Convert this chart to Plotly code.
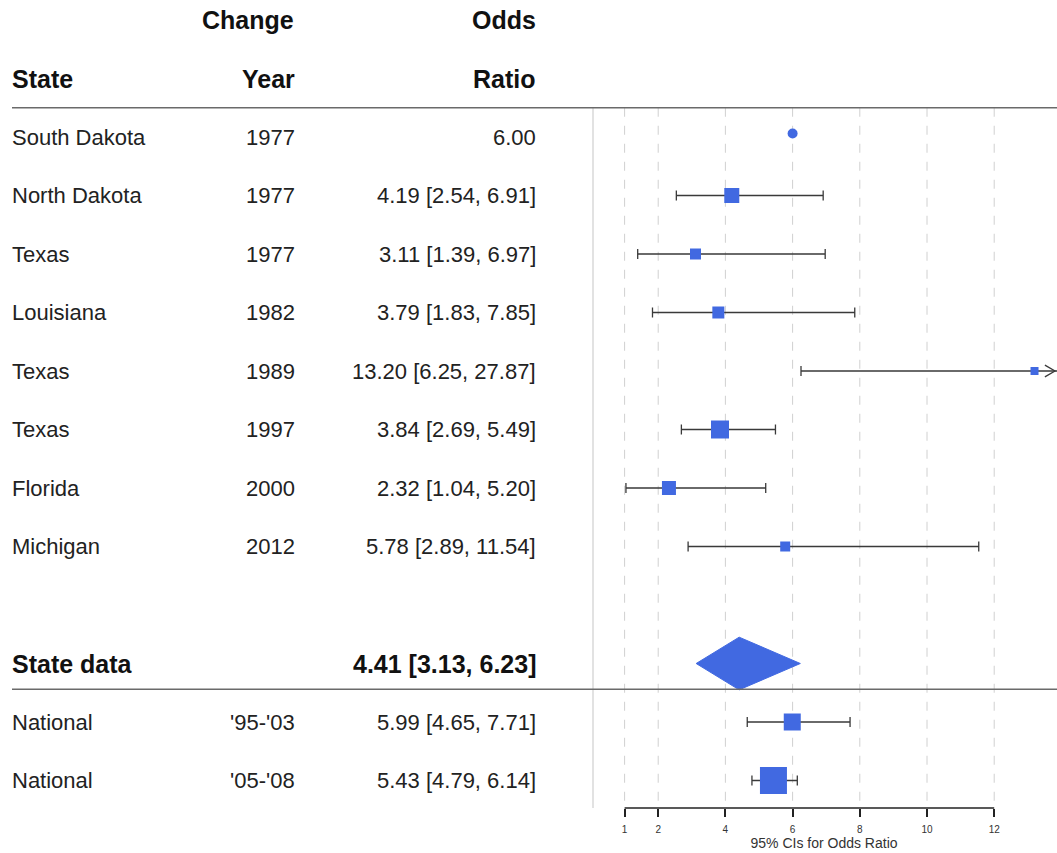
import plotly.graph_objects as go

# Study rows
states = ["South Dakota", "North Dakota", "Texas", "Louisiana", "Texas", "Texas",
          "Florida", "Michigan"]
years = ["1977", "1977", "1977", "1982", "1989", "1997", "2000", "2012"]
odds = [6.00, 4.19, 3.11, 3.79, 13.20, 3.84, 2.32, 5.78]
ci_low = [None, 2.54, 1.39, 1.83, 6.25, 2.69, 1.04, 2.89]
ci_high = [None, 6.91, 6.97, 7.85, 27.87, 5.49, 5.20, 11.54]
weights = [10, 15, 11, 12, 8, 18, 14, 10]  # marker sizes (px)

# Pooled estimate
pooled_label = "State data"
pooled_or, pooled_low, pooled_high = 4.41, 3.13, 6.23

# National rows
nat_names = ["National", "National"]
nat_years = ["'95-'03", "'05-'08"]
nat_or = [5.99, 5.43]
nat_low = [4.65, 4.79]
nat_high = [7.71, 6.14]
nat_weights = [17, 27]

tick_vals = [1, 2, 4, 6, 8, 10, 12]

W, H = 1057, 853
X0_PX, PX_PER_UNIT = 591, 33.6
ROW0_PX, PX_PER_ROW = 137, 58.5
x_max = (W - X0_PX) / PX_PER_UNIT
y_top = -ROW0_PX / PX_PER_ROW
y_bot = (H - ROW0_PX) / PX_PER_ROW
AXIS_ROW = 11.47

BLUE = "#4169E1"
CI_COL = "#3a3a3a"
TXT = "#222222"
FONT = "Liberation Sans, Arial, sans-serif"

state_rows = list(range(len(states)))
pooled_row = 9
nat_rows = [10, 11]

fig = go.Figure()

# dashed reference grid
shapes = []
for t in tick_vals:
    shapes.append(dict(type="line", xref="x", yref="y", x0=t, x1=t, y0=-0.5, y1=AXIS_ROW,
                       line=dict(color="#d0d0d0", width=1, dash="dash"), layer="below"))
# separator between table and plot
shapes.append(dict(type="line", xref="paper", yref="y", x0=593 / W, x1=593 / W,
                   y0=-0.5, y1=AXIS_ROW, line=dict(color="#cfcfcf", width=1.2), layer="below"))
# horizontal rules
for r in (-0.5, 9.44):
    shapes.append(dict(type="line", xref="paper", yref="y", x0=12 / W, x1=1,
                       y0=r, y1=r, line=dict(color="#6a6a6a", width=1.5)))
# axis line
shapes.append(dict(type="line", xref="x", yref="y", x0=tick_vals[0], x1=tick_vals[-1],
                   y0=AXIS_ROW, y1=AXIS_ROW, line=dict(color="#222222", width=1.5)))

# South Dakota: point estimate only
fig.add_trace(go.Scatter(
    x=[odds[0]], y=[state_rows[0] - 0.06], mode="markers",
    marker=dict(symbol="circle", size=weights[0], color=BLUE, opacity=1,
                line=dict(width=0)),
    showlegend=False))

# remaining state estimates with CIs
xs = odds[1:]
ys = state_rows[1:]
fig.add_trace(go.Scatter(
    x=xs, y=ys, mode="markers",
    marker=dict(symbol="square", size=weights[1:], color=BLUE, opacity=1,
                line=dict(width=0)),
    error_x=dict(type="data", symmetric=False,
                 array=[h - o for h, o in zip(ci_high[1:], xs)],
                 arrayminus=[o - l for l, o in zip(ci_low[1:], xs)],
                 color=CI_COL, thickness=1.3, width=5),
    showlegend=False))

# national estimates
fig.add_trace(go.Scatter(
    x=nat_or, y=nat_rows, mode="markers",
    marker=dict(symbol="square", size=nat_weights, color=BLUE, opacity=1,
                line=dict(width=0)),
    error_x=dict(type="data", symmetric=False,
                 array=[h - o for h, o in zip(nat_high, nat_or)],
                 arrayminus=[o - l for l, o in zip(nat_low, nat_or)],
                 color=CI_COL, thickness=1.3, width=5),
    showlegend=False))

# pooled diamond
dh = 0.45
fig.add_trace(go.Scatter(
    x=[pooled_low, pooled_or, pooled_high, pooled_or, pooled_low],
    y=[pooled_row, pooled_row - dh, pooled_row, pooled_row + dh, pooled_row],
    mode="lines", fill="toself", fillcolor=BLUE, line=dict(color=BLUE, width=1),
    showlegend=False))

# open arrow for the CI that runs past the axis
r_arrow = 4
ax = x_max - 0.06
fig.add_trace(go.Scatter(
    x=[ax - 0.3, ax, ax - 0.3], y=[r_arrow - 0.1, r_arrow, r_arrow + 0.1],
    mode="lines", line=dict(color=CI_COL, width=1.3), showlegend=False, cliponaxis=False))

# table text
ann = []
def txt(x, y, s, anchor, bold=False):
    ann.append(dict(xref="paper", yref="y", x=x / W, y=y, text=(f"<b>{s}</b>" if bold else s),
                    showarrow=False, xanchor=anchor, yanchor="middle",
                    font=dict(family=FONT, size=25 if bold else 22,
                              color="#111111" if bold else TXT)))

txt(200, -2, "Change", "left", True)
txt(538, -2, "Odds", "right", True)
txt(10, -1, "State", "left", True)
txt(297, -1, "Year", "right", True)
txt(538, -1, "Ratio", "right", True)

for i, (s, yr, o, lo, hi) in enumerate(zip(states, years, odds, ci_low, ci_high)):
    txt(10, state_rows[i], s, "left")
    txt(297, state_rows[i], yr, "right")
    label = f"{o:.2f}" if lo is None else f"{o:.2f} [{lo:.2f}, {hi:.2f}]"
    txt(538, state_rows[i], label, "right")

txt(10, pooled_row, pooled_label, "left", True)
txt(538, pooled_row, f"{pooled_or:.2f} [{pooled_low:.2f}, {pooled_high:.2f}]", "right", True)

for i in range(len(nat_names)):
    txt(10, nat_rows[i], nat_names[i], "left")
    txt(297, nat_rows[i], nat_years[i], "right")
    txt(538, nat_rows[i], f"{nat_or[i]:.2f} [{nat_low[i]:.2f}, {nat_high[i]:.2f}]", "right")

fig.update_layout(
    width=W, height=H, margin=dict(l=0, r=0, t=0, b=0),
    paper_bgcolor="white", plot_bgcolor="white",
    shapes=shapes, annotations=ann,
    xaxis=dict(domain=[X0_PX / W, 1], range=[0, x_max], showgrid=False, zeroline=False,
               showline=False, anchor="free", position=1 - 808 / H,
               tickvals=tick_vals, ticks="outside", ticklen=8, tickwidth=1.5,
               tickcolor="#222222", showticklabels=True, ticklabelstandoff=4,
               tickfont=dict(family=FONT, size=10, color="#333333"),
               title=dict(text="95% CIs for Odds Ratio",
                          font=dict(family=FONT, size=14, color="#333333"), standoff=3)),
    yaxis=dict(domain=[0, 1], range=[y_bot, y_top], visible=False),
)

fig.write_html("out.html")
